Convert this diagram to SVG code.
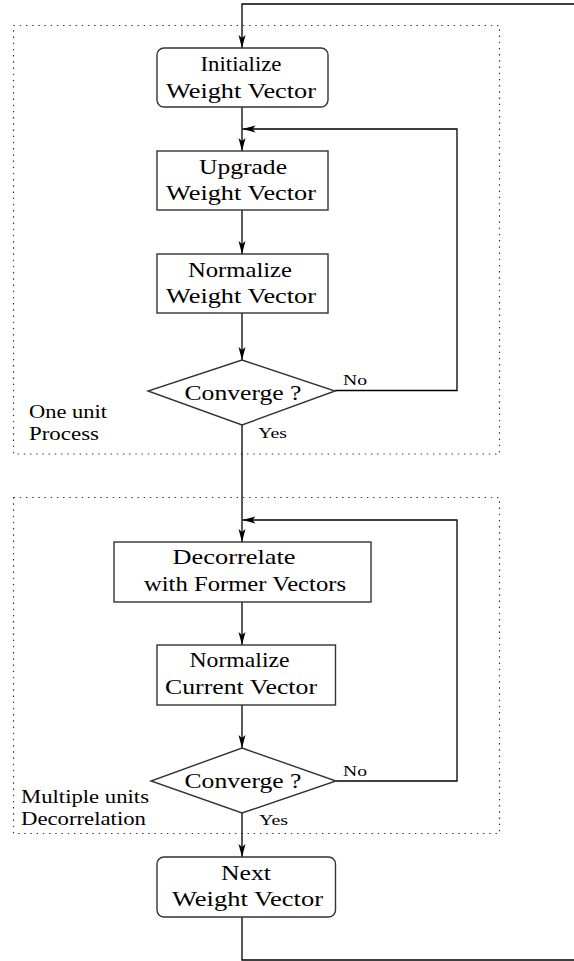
<svg xmlns="http://www.w3.org/2000/svg" width="574" height="961" viewBox="0 0 574 961">
  <style>
    .bg { fill: #ffffff; }
    .box { fill: #ffffff; stroke: #333333; stroke-width: 1.4; }
    .frame { fill: none; stroke: #333333; stroke-width: 1.2; stroke-dasharray: 1.4 4.8; }
    .wire { fill: none; stroke: #000000; stroke-width: 1.3; }
    .t { font-family: "Liberation Serif", "Times New Roman", serif; font-size: 21px; fill: #000000; text-anchor: middle; }
    .s { font-family: "Liberation Serif", "Times New Roman", serif; font-size: 15px; fill: #000000; }
    .m { font-family: "Liberation Serif", "Times New Roman", serif; font-size: 18px; fill: #000000; }
  </style>
  <defs>
    <marker id="arrow" markerUnits="userSpaceOnUse" viewBox="-14 -5 15 10" markerWidth="15" markerHeight="10" refX="0" refY="0" orient="auto">
      <path d="M0,0 L-13,-3.5 L-10,0 L-13,3.5 Z" fill="#000000"/>
    </marker>
  </defs>

  <rect class="bg" x="0" y="0" width="574" height="961"/>

  <!-- dotted grouping frames -->
  <g id="frame-one-unit">
    <rect class="frame" x="13.5" y="25.5" width="486" height="428.5"/>
    <text class="m" x="29" y="418" textLength="78" lengthAdjust="spacingAndGlyphs">One unit</text>
    <text class="m" x="29" y="440" textLength="70" lengthAdjust="spacingAndGlyphs">Process</text>
  </g>
  <g id="frame-multiple-units">
    <rect class="frame" x="13.5" y="497.5" width="486" height="336"/>
    <text class="m" x="21" y="803" textLength="128" lengthAdjust="spacingAndGlyphs">Multiple units</text>
    <text class="m" x="21" y="825" textLength="125" lengthAdjust="spacingAndGlyphs">Decorrelation</text>
  </g>

  <!-- connectors -->
  <g id="connectors">
    <path class="wire" d="M574,4 H242 V48" marker-end="url(#arrow)"/>
    <path class="wire" d="M242,107 V151" marker-end="url(#arrow)"/>
    <path class="wire" d="M242,210 V254" marker-end="url(#arrow)"/>
    <path class="wire" d="M242,313 V360" marker-end="url(#arrow)"/>
    <path class="wire" d="M335,390.5 H457 V129 H242.5" marker-end="url(#arrow)"/>
    <path class="wire" d="M242,425 V542" marker-end="url(#arrow)"/>
    <path class="wire" d="M242,602 V645" marker-end="url(#arrow)"/>
    <path class="wire" d="M242,705 V748" marker-end="url(#arrow)"/>
    <path class="wire" d="M336,781 H457 V520 H242.5" marker-end="url(#arrow)"/>
    <path class="wire" d="M242,813 V857" marker-end="url(#arrow)"/>
    <path class="wire" d="M242,917 V960 H574"/>
    <text class="s" x="343" y="385" textLength="24" lengthAdjust="spacingAndGlyphs">No</text>
    <text class="s" x="258" y="438" textLength="29" lengthAdjust="spacingAndGlyphs">Yes</text>
    <text class="s" x="343" y="776" textLength="24" lengthAdjust="spacingAndGlyphs">No</text>
    <text class="s" x="259" y="825" textLength="29" lengthAdjust="spacingAndGlyphs">Yes</text>
  </g>

  <!-- one unit process -->
  <g id="initialize">
    <rect class="box" x="157" y="48" width="171" height="59" rx="7"/>
    <text class="t" x="241" y="70.5" textLength="81" lengthAdjust="spacingAndGlyphs">Initialize</text>
    <text class="t" x="241" y="97.5" textLength="150" lengthAdjust="spacingAndGlyphs">Weight Vector</text>
  </g>
  <g id="upgrade">
    <rect class="box" x="157" y="151" width="171" height="59"/>
    <text class="t" x="243" y="173.5" textLength="88" lengthAdjust="spacingAndGlyphs">Upgrade</text>
    <text class="t" x="241" y="200" textLength="150" lengthAdjust="spacingAndGlyphs">Weight Vector</text>
  </g>
  <g id="normalize-weight">
    <rect class="box" x="157" y="254" width="171" height="59"/>
    <text class="t" x="240" y="276.5" textLength="104" lengthAdjust="spacingAndGlyphs">Normalize</text>
    <text class="t" x="241" y="303" textLength="150" lengthAdjust="spacingAndGlyphs">Weight Vector</text>
  </g>
  <g id="converge-1">
    <polygon class="box" points="242,360 335,391 242,425 148,391"/>
    <text class="t" x="243" y="400" textLength="117" lengthAdjust="spacingAndGlyphs">Converge ?</text>
  </g>

  <!-- multiple units decorrelation -->
  <g id="decorrelate">
    <rect class="box" x="114" y="542" width="257" height="60"/>
    <text class="t" x="234" y="564" textLength="123" lengthAdjust="spacingAndGlyphs">Decorrelate</text>
    <text class="t" x="245" y="590.5" textLength="202" lengthAdjust="spacingAndGlyphs">with Former Vectors</text>
  </g>
  <g id="normalize-current">
    <rect class="box" x="157" y="645" width="178.5" height="60"/>
    <text class="t" x="239.5" y="667" textLength="100" lengthAdjust="spacingAndGlyphs">Normalize</text>
    <text class="t" x="241" y="693.5" textLength="152" lengthAdjust="spacingAndGlyphs">Current Vector</text>
  </g>
  <g id="converge-2">
    <polygon class="box" points="242,748 336,781 242,813 151,781"/>
    <text class="t" x="243" y="787.5" textLength="117" lengthAdjust="spacingAndGlyphs">Converge ?</text>
  </g>

  <g id="next">
    <rect class="box" x="157" y="857" width="178.5" height="60" rx="7"/>
    <text class="t" x="246" y="879.5" textLength="50" lengthAdjust="spacingAndGlyphs">Next</text>
    <text class="t" x="247.5" y="906" textLength="151" lengthAdjust="spacingAndGlyphs">Weight Vector</text>
  </g>
</svg>
